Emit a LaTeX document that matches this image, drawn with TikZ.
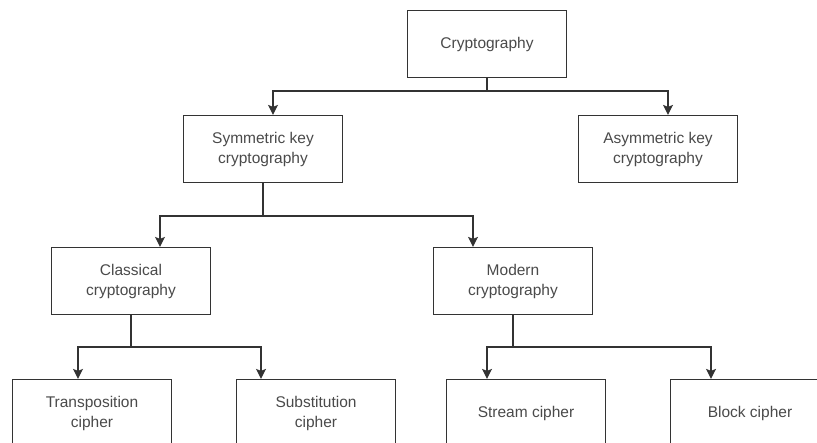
\documentclass[tikz,border=0pt]{standalone}
\usepackage{fontspec}
\setmainfont{Liberation Sans}
\usetikzlibrary{arrows.meta}
\definecolor{ln}{HTML}{333333}
\definecolor{tx}{HTML}{4A4A4A}

\begin{document}
\begin{tikzpicture}[x=1pt,y=-1pt,
    box/.style={draw=ln,line width=1.2pt,fill=white,minimum width=159pt,minimum height=67pt,inner sep=0pt,align=center,text=tx,font=\fontsize{15.5}{20}\selectfont},
    arr/.style={draw=ln,line width=1.2pt,-{Stealth[length=10pt,width=10pt,inset=2pt]}}]
  	\clip (0,0) rectangle (817,443); %裁剪到图片大小
  	\fill [white] (0,0) rectangle (817,443);
  	\node [box] (crypto) at (487,44) {Cryptography};
  	\node [box] (sym) at (263,149) {Symmetric key\\cryptography};
  	\node [box] (asym) at (658,149) {Asymmetric key\\cryptography};
  	\node [box] (classic) at (131,281) {Classical\\cryptography};
  	\node [box] (modern) at (513,281) {Modern\\cryptography};
  	\node [box] (trans) at (92,413) {Transposition\\cipher};
  	\node [box] (subst) at (316,413) {Substitution\\cipher};
  	\node [box] (stream) at (526,413) {Stream cipher};
  	\node [box] (block) at (750,413) {Block cipher};
  	\draw [arr] (crypto.south) -- ++(0,13) -| ([xshift=10pt]sym.north);
  	\draw [arr] (crypto.south) -- ++(0,13) -| ([xshift=10pt]asym.north);
  	\draw [arr] (sym.south) -- ++(0,33) -| ([xshift=29pt]classic.north);
  	\draw [arr] (sym.south) -- ++(0,33) -| ([xshift=-40pt]modern.north);
  	\draw [arr] (classic.south) -- ++(0,32) -| ([xshift=-14pt]trans.north);
  	\draw [arr] (classic.south) -- ++(0,32) -| ([xshift=-55pt]subst.north);
  	\draw [arr] (modern.south) -- ++(0,32) -| ([xshift=-39pt]stream.north);
  	\draw [arr] (modern.south) -- ++(0,32) -| ([xshift=-39pt]block.north);
\end{tikzpicture}
\end{document}
